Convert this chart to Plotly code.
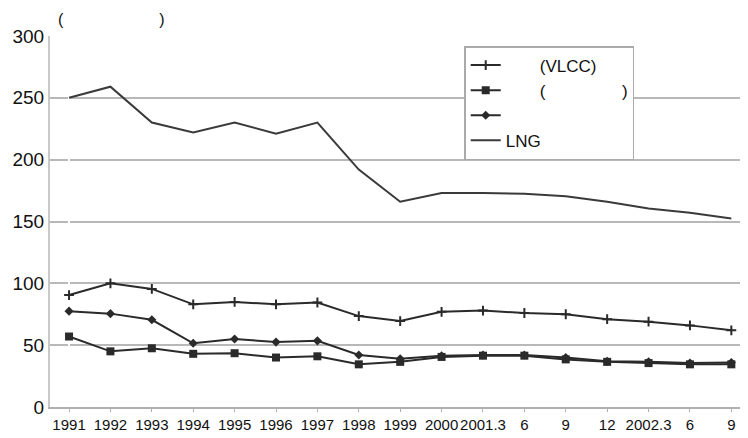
"""Ship newbuilding price chart."""

import plotly.graph_objects as go

SP = "\u3000"

categories = ["1991", "1992", "1993", "1994", "1995", "1996", "1997", "1998", "1999", "2000",
              "2001.3", "6", "9", "12", "2002.3", "6", "9"]

vlcc = [90.5, 100, 95.5, 83, 85, 83, 84.5, 73.5, 69.5, 77, 78, 76, 75, 71, 69, 66, 62]
bulk = [57, 45, 47.5, 43, 43.5, 40, 41, 34.5, 36.5, 40.5, 41.5, 41.5, 38.5, 36.5, 35.5, 34.5, 34.5]
container = [77.5, 75.5, 70.5, 51.5, 55, 52.5, 53.5, 42, 39, 41.5, 42, 42, 40, 37, 36.5, 35.5, 36]
lng = [250, 259, 230, 222, 230, 221, 230, 192, 166, 173, 173, 172.5, 170.5, 166, 160.5, 157, 152.5]

names = [
    SP * 2 + "(VLCC)",
    SP * 2 + "(" + SP * 4 + "\u2002)",
    SP * 4,
    "LNG",
]

x = list(range(len(categories)))
LINE = "#2a2a2a"

fig = go.Figure()
fig.add_trace(go.Scatter(x=x, y=vlcc, name=names[0], mode="lines+markers",
                         line=dict(color=LINE, width=2),
                         marker=dict(symbol="cross-thin", size=7, color=LINE,
                                     line=dict(color=LINE, width=2))))
fig.add_trace(go.Scatter(x=x, y=bulk, name=names[1], mode="lines+markers",
                         line=dict(color=LINE, width=2),
                         marker=dict(symbol="square", size=8, color=LINE)))
fig.add_trace(go.Scatter(x=x, y=container, name=names[2], mode="lines+markers",
                         line=dict(color=LINE, width=2),
                         marker=dict(symbol="diamond", size=7, color=LINE)))
fig.add_trace(go.Scatter(x=x, y=lng, name=names[3], mode="lines",
                         line=dict(color="#3a3a3a", width=2)))

# page has an 8px body margin, so the figure is 8px smaller than the window
fig.update_layout(
    width=740,
    height=430,
    margin=dict(l=42, r=3, t=28, b=31, autoexpand=False),
    paper_bgcolor="white",
    plot_bgcolor="white",
    font=dict(family="Arial, Liberation Sans, sans-serif", color="#111", size=17),
    legend=dict(
        x=0.596, y=0.973, xanchor="left", yanchor="top",
        bgcolor="white", bordercolor="#aaaaaa", borderwidth=1.5,
        font=dict(size=17), itemwidth=30, tracegroupgap=0,
    ),
    annotations=[dict(
        text="(" + SP * 6 + ")", xref="paper", yref="paper", x=0.008, y=1.0,
        xanchor="left", yanchor="bottom", showarrow=False, yshift=6,
        font=dict(size=16),
    )],
)
fig.update_xaxes(
    tickvals=x, ticktext=categories, range=[-0.46, 16.33], tickangle=0,
    showgrid=False, showline=True, linecolor="#b0b0b0", linewidth=2,
    ticks="outside", ticklen=3, tickcolor="#b0b0b0",
    tickfont=dict(family="Liberation Sans Narrow, Arial Narrow, Liberation Sans, sans-serif", size=15),
)
fig.update_yaxes(
    range=[0, 300], dtick=50, showgrid=True, gridcolor="#b8b8b8", gridwidth=1.5,
    showline=True, linecolor="#c8c8c8", linewidth=2, zeroline=False,
    tickfont=dict(size=19), ticks="", ticklabelstandoff=0,
)

fig.write_html("out.html")
